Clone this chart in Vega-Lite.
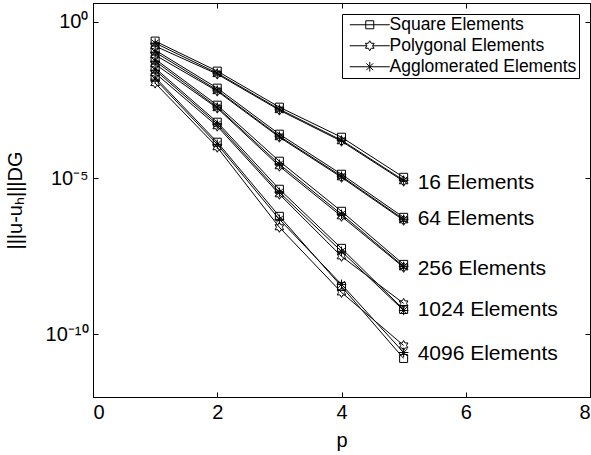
{
  "$schema": "https://vega.github.io/schema/vega-lite/v6.json",
  "width": 497,
  "height": 394,
  "autosize": {"type": "none"},
  "padding": {"left": 93, "top": 3, "right": 1, "bottom": 58},
  "background": "white",
  "config": {
    "font": "Liberation Sans",
    "view": {"stroke": "black", "strokeWidth": 1},
    "axis": {
      "grid": false,
      "domainColor": "black",
      "tickColor": "black",
      "labelColor": "black",
      "titleColor": "black",
      "labelFont": "Liberation Sans",
      "titleFont": "Liberation Sans",
      "labelFontSize": 20,
      "titleFontSize": 20,
      "titleFontWeight": "normal",
      "tickSize": -5,
      "labelPadding": 10
    },
    "legend": {"labelFont": "Liberation Sans"}
  },
  "datasets": {
    "errs": [
      {"t": "Square Elements", "N": 16, "p": 1, "e": 0.241},
      {"t": "Square Elements", "N": 64, "p": 1, "e": 0.124},
      {"t": "Square Elements", "N": 256, "p": 1, "e": 0.064},
      {"t": "Square Elements", "N": 1024, "p": 1, "e": 0.0329},
      {"t": "Square Elements", "N": 4096, "p": 1, "e": 0.0169},
      {"t": "Square Elements", "N": 16, "p": 2, "e": 0.0264},
      {"t": "Square Elements", "N": 64, "p": 2, "e": 0.00753},
      {"t": "Square Elements", "N": 256, "p": 2, "e": 0.00215},
      {"t": "Square Elements", "N": 1024, "p": 2, "e": 0.000614},
      {"t": "Square Elements", "N": 4096, "p": 2, "e": 0.000141},
      {"t": "Square Elements", "N": 16, "p": 3, "e": 0.00186},
      {"t": "Square Elements", "N": 64, "p": 3, "e": 0.000254},
      {"t": "Square Elements", "N": 256, "p": 3, "e": 3.47e-5},
      {"t": "Square Elements", "N": 1024, "p": 3, "e": 4.4e-6},
      {"t": "Square Elements", "N": 4096, "p": 3, "e": 6.0e-7},
      {"t": "Square Elements", "N": 16, "p": 4, "e": 0.000203},
      {"t": "Square Elements", "N": 64, "p": 4, "e": 1.33e-5},
      {"t": "Square Elements", "N": 256, "p": 4, "e": 8.69e-7},
      {"t": "Square Elements", "N": 1024, "p": 4, "e": 5.67e-8},
      {"t": "Square Elements", "N": 4096, "p": 4, "e": 3.44e-9},
      {"t": "Square Elements", "N": 16, "p": 5, "e": 1.06e-5},
      {"t": "Square Elements", "N": 64, "p": 5, "e": 5.57e-7},
      {"t": "Square Elements", "N": 256, "p": 5, "e": 1.74e-8},
      {"t": "Square Elements", "N": 1024, "p": 5, "e": 6.31e-10},
      {"t": "Square Elements", "N": 4096, "p": 5, "e": 1.71e-11},
      {"t": "Polygonal Elements", "N": 16, "p": 1, "e": 0.167},
      {"t": "Polygonal Elements", "N": 64, "p": 1, "e": 0.0859},
      {"t": "Polygonal Elements", "N": 256, "p": 1, "e": 0.0442},
      {"t": "Polygonal Elements", "N": 1024, "p": 1, "e": 0.0228},
      {"t": "Polygonal Elements", "N": 4096, "p": 1, "e": 0.0109},
      {"t": "Polygonal Elements", "N": 16, "p": 2, "e": 0.0212},
      {"t": "Polygonal Elements", "N": 64, "p": 2, "e": 0.00604},
      {"t": "Polygonal Elements", "N": 256, "p": 2, "e": 0.00173},
      {"t": "Polygonal Elements", "N": 1024, "p": 2, "e": 0.000457},
      {"t": "Polygonal Elements", "N": 4096, "p": 2, "e": 9.72e-5},
      {"t": "Polygonal Elements", "N": 16, "p": 3, "e": 0.00149},
      {"t": "Polygonal Elements", "N": 64, "p": 3, "e": 0.000203},
      {"t": "Polygonal Elements", "N": 256, "p": 3, "e": 2.4e-5},
      {"t": "Polygonal Elements", "N": 1024, "p": 3, "e": 3.04e-6},
      {"t": "Polygonal Elements", "N": 4096, "p": 3, "e": 2.67e-7},
      {"t": "Polygonal Elements", "N": 16, "p": 4, "e": 0.000151},
      {"t": "Polygonal Elements", "N": 64, "p": 4, "e": 1.06e-5},
      {"t": "Polygonal Elements", "N": 256, "p": 4, "e": 6.0e-7},
      {"t": "Polygonal Elements", "N": 1024, "p": 4, "e": 3.15e-8},
      {"t": "Polygonal Elements", "N": 4096, "p": 4, "e": 2.21e-9},
      {"t": "Polygonal Elements", "N": 16, "p": 5, "e": 7.93e-6},
      {"t": "Polygonal Elements", "N": 64, "p": 5, "e": 4.47e-7},
      {"t": "Polygonal Elements", "N": 256, "p": 5, "e": 1.4e-8},
      {"t": "Polygonal Elements", "N": 1024, "p": 5, "e": 9.84e-10},
      {"t": "Polygonal Elements", "N": 4096, "p": 5, "e": 4.45e-11},
      {"t": "Agglomerated Elements", "N": 16, "p": 1, "e": 0.208},
      {"t": "Agglomerated Elements", "N": 64, "p": 1, "e": 0.107},
      {"t": "Agglomerated Elements", "N": 256, "p": 1, "e": 0.0552},
      {"t": "Agglomerated Elements", "N": 1024, "p": 1, "e": 0.0284},
      {"t": "Agglomerated Elements", "N": 4096, "p": 1, "e": 0.0146},
      {"t": "Agglomerated Elements", "N": 16, "p": 2, "e": 0.0228},
      {"t": "Agglomerated Elements", "N": 64, "p": 2, "e": 0.0065},
      {"t": "Agglomerated Elements", "N": 256, "p": 2, "e": 0.00186},
      {"t": "Agglomerated Elements", "N": 1024, "p": 2, "e": 0.00053},
      {"t": "Agglomerated Elements", "N": 4096, "p": 2, "e": 0.000121},
      {"t": "Agglomerated Elements", "N": 16, "p": 3, "e": 0.0016},
      {"t": "Agglomerated Elements", "N": 64, "p": 3, "e": 0.000219},
      {"t": "Agglomerated Elements", "N": 256, "p": 3, "e": 2.78e-5},
      {"t": "Agglomerated Elements", "N": 1024, "p": 3, "e": 3.52e-6},
      {"t": "Agglomerated Elements", "N": 4096, "p": 3, "e": 4.81e-7},
      {"t": "Agglomerated Elements", "N": 16, "p": 4, "e": 0.000163},
      {"t": "Agglomerated Elements", "N": 64, "p": 4, "e": 1.15e-5},
      {"t": "Agglomerated Elements", "N": 256, "p": 4, "e": 6.96e-7},
      {"t": "Agglomerated Elements", "N": 1024, "p": 4, "e": 4.55e-8},
      {"t": "Agglomerated Elements", "N": 4096, "p": 4, "e": 3.99e-9},
      {"t": "Agglomerated Elements", "N": 16, "p": 5, "e": 8.53e-6},
      {"t": "Agglomerated Elements", "N": 64, "p": 5, "e": 4.81e-7},
      {"t": "Agglomerated Elements", "N": 256, "p": 5, "e": 1.5e-8},
      {"t": "Agglomerated Elements", "N": 1024, "p": 5, "e": 5.86e-10},
      {"t": "Agglomerated Elements", "N": 4096, "p": 5, "e": 2.65e-11}
    ],
    "labels": [
      {"p": 5, "e": 6.84e-6, "label": "16 Elements"},
      {"p": 5, "e": 4.81e-7, "label": "64 Elements"},
      {"p": 5, "e": 1.21e-8, "label": "256 Elements"},
      {"p": 5, "e": 5.86e-10, "label": "1024 Elements"},
      {"p": 5, "e": 2.46e-11, "label": "4096 Elements"}
    ]
  },
  "layer": [
    {
      "data": {"name": "errs"},
      "mark": {"type": "line", "color": "black", "strokeWidth": 1},
      "encoding": {
        "x": {"field": "p", "type": "quantitative", "scale": {"domain": [0, 8], "nice": false},
              "axis": {"values": [0, 2, 4, 6, 8], "title": "p", "titlePadding": 8}},
        "y": {"field": "e", "type": "quantitative", "scale": {"type": "log", "domain": [1e-12, 3.98], "nice": false},
              "axis": {"values": [1, 0.00001, 1e-10], "title": "|||u-uₕ|||DG", "titlePadding": 20,
                       "labelExpr": "datum.value > 0.1 ? '10⁰' : datum.value > 1e-7 ? '10⁻⁵' : '10⁻¹⁰'"}},
        "detail": [{"field": "t"}, {"field": "N"}]
      }
    },
    {
      "data": {"name": "errs"},
      "mark": {"type": "point", "filled": false, "stroke": "black", "strokeWidth": 1, "size": 64, "opacity": 1},
      "encoding": {
        "x": {"field": "p", "type": "quantitative", "axis": null},
        "y": {"field": "e", "type": "quantitative", "axis": null},
        "shape": {
          "field": "t", "type": "nominal", "legend": null,
          "scale": {
            "domain": ["Square Elements", "Polygonal Elements", "Agglomerated Elements"],
            "range": [
              "M-1,-1H1V1H-1Z",
              "M0,-1.25L0.361,-0.625L1.083,-0.625L0.722,0L1.083,0.625L0.361,0.625L0,1.25L-0.361,0.625L-1.083,0.625L-0.722,0L-1.083,-0.625L-0.361,-0.625Z",
              "M-1.2,0H1.2M0,-1.2V1.2M-0.85,-0.85L0.85,0.85M-0.85,0.85L0.85,-0.85"
            ]
          }
        }
      }
    },
    {
      "data": {"name": "errs"},
      "transform": [{"filter": "datum.p > 100"}],
      "mark": {"type": "point", "filled": false, "stroke": "black", "strokeWidth": 1, "size": 64, "opacity": 1},
      "encoding": {
        "x": {"field": "p", "type": "quantitative", "axis": null},
        "y": {"field": "e", "type": "quantitative", "axis": null},
        "shape": {
          "field": "t", "type": "nominal",
          "scale": {
            "domain": ["Square Elements", "Polygonal Elements", "Agglomerated Elements"],
            "range": [
              "M-5,0H5M-1,-1H1V1H-1Z",
              "M-5,0H-0.722M0.722,0H5M0,-1.25L0.361,-0.625L1.083,-0.625L0.722,0L1.083,0.625L0.361,0.625L0,1.25L-0.361,0.625L-1.083,0.625L-0.722,0L-1.083,-0.625L-0.361,-0.625Z",
              "M-5,0H5M0,-1.2V1.2M-0.85,-0.85L0.85,0.85M-0.85,0.85L0.85,-0.85"
            ]
          },
          "legend": {
            "title": null,
            "orient": "top-right",
            "offset": 11,
            "strokeColor": "black",
            "fillColor": "white",
            "padding": 2,
            "symbolSize": 64,
            "symbolOffset": 17,
            "labelOffset": 11,
            "labelFont": "Liberation Sans",
            "labelFontSize": 17.5,
            "labelColor": "black",
            "labelLimit": 400,
            "rowPadding": 2,
            "symbolStrokeWidth": 1,
            "symbolStrokeColor": "black",
            "symbolFillColor": "transparent",
            "symbolOpacity": 1
          }
        }
      }
    },
    {
      "data": {"name": "labels"},
      "mark": {"type": "text", "align": "left", "baseline": "middle", "dx": 14, "fontSize": 21, "font": "Liberation Sans", "color": "black"},
      "encoding": {
        "x": {"field": "p", "type": "quantitative",
              "axis": {"orient": "top", "values": [0, 2, 4, 6, 8], "labels": false, "title": null}},
        "y": {"field": "e", "type": "quantitative",
              "axis": {"orient": "right", "values": [1, 0.00001, 1e-10], "labels": false, "title": null}},
        "text": {"field": "label"}
      }
    }
  ],
  "resolve": {"scale": {"shape": "independent"}, "axis": {"x": "independent", "y": "independent"}}
}
